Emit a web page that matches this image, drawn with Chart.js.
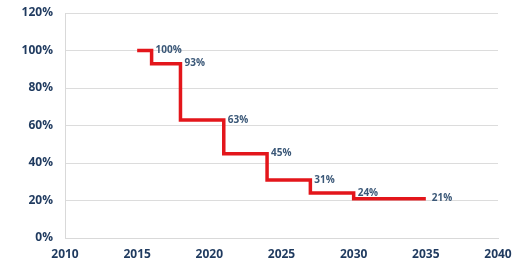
<!DOCTYPE html>
<html>
<head>
<meta charset="utf-8">
<script src="https://cdn.jsdelivr.net/npm/chart.js@4"></script>
<style>
  html, body { margin: 0; padding: 0; background: #fff; }
  #wrap { width: 523px; height: 261px; }
</style>
</head>
<body>
<div id="wrap"><canvas id="chart-1"></canvas></div>
<script>
// step chart data: value holds until the next year
const years = [2015, 2016, 2018, 2021, 2024, 2027, 2030, 2035];
const values = [100, 100, 93, 63, 45, 31, 24, 21];
const pointLabels = ['', '100%', '93%', '63%', '45%', '31%', '24%', '21%'];
const xTicks = [2010, 2015, 2020, 2025, 2030, 2035, 2040];
const yTicks = [0, 20, 40, 60, 80, 100, 120];

const labelPlugin = {
  id: 'stepLabels',
  afterDatasetsDraw(chart) {
    const ctx = chart.ctx;
    const meta = chart.getDatasetMeta(0);
    ctx.save();
    ctx.font = 'bold 10px "Open Sans"';
    ctx.fillStyle = '#3b5878';
    ctx.textAlign = 'left';
    ctx.textBaseline = 'middle';
    meta.data.forEach((pt, i) => {
      if (!pointLabels[i]) return;
      const dx = i === pointLabels.length - 1 ? 6 : 4;
      ctx.fillText(pointLabels[i], pt.x + dx, pt.y);
    });
    ctx.restore();
  }
};

const chartData = {
  datasets: [{
    data: years.map((y, i) => ({ x: y, y: values[i] })),
    borderColor: '#e3161b',
    borderWidth: 3.5,
    stepped: 'after',
    fill: false,
    pointRadius: 0
  }]
};

const chartOptions = {
  responsive: true,
  maintainAspectRatio: false,
  animation: false,
  layout: { padding: { top: 13, right: 25, left: 0, bottom: 0 } },
  plugins: {
    legend: { display: false },
    tooltip: { enabled: false }
  },
  scales: {
    x: {
      type: 'linear',
      min: 2010,
      max: 2040,
      afterBuildTicks: (scale) => { scale.ticks = xTicks.map(v => ({ value: v })); },
      afterFit: (scale) => { scale.height = 23; },
      grid: { display: false, drawTicks: false },
      border: { display: true, color: '#d9d9d9', width: 1 },
      ticks: {
        padding: 9,
        color: '#1f3a5f',
        font: { family: 'Open Sans', weight: 'bold', size: 12 },
        callback: (v) => String(v)
      }
    },
    y: {
      min: 0,
      max: 120,
      afterBuildTicks: (scale) => { scale.ticks = yTicks.map(v => ({ value: v })); },
      afterFit: (scale) => {
        scale.width = 65;
        scale.paddingTop = 0;
        scale.paddingBottom = 0;
      },
      grid: { color: '#dcdcdc', lineWidth: 1, drawTicks: false },
      border: { display: true, color: '#d9d9d9', width: 1 },
      ticks: {
        padding: 12,
        color: '#1f3a5f',
        font: { family: 'Open Sans', weight: 'bold', size: 12 },
        callback: (v) => v + '%'
      }
    }
  }
};

const ctx = document.getElementById('chart-1').getContext('2d');
new Chart(ctx, {
  type: 'line',
  data: chartData,
  options: chartOptions,
  plugins: [labelPlugin]
});
</script>
</body>
</html>
